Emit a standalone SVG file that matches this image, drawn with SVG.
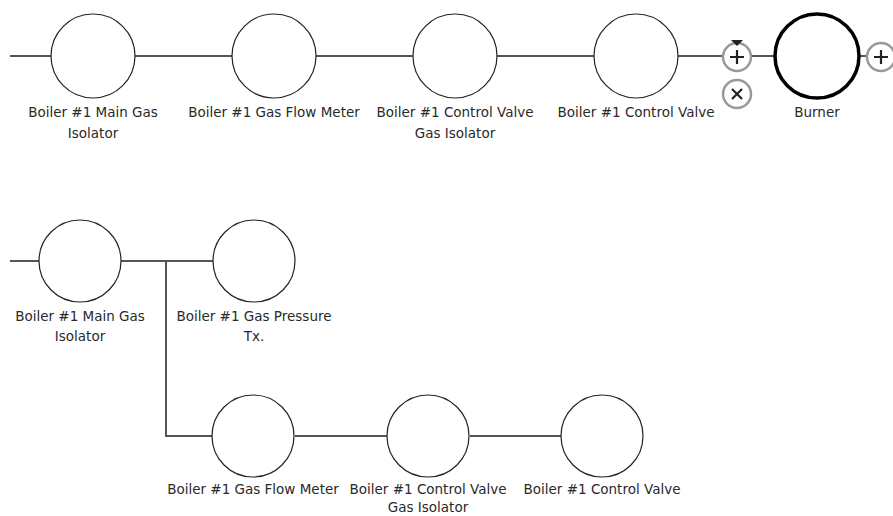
<svg xmlns="http://www.w3.org/2000/svg" width="893" height="516" viewBox="0 0 893 516">
<style>
.n{fill:#fff;stroke:#222;stroke-width:1.2}
.b{fill:#fff;stroke:#000;stroke-width:3.5}
.c{stroke:#555;stroke-width:2;fill:none}
.t{font-family:"DejaVu Sans",Verdana,sans-serif;font-size:13.5px;fill:#2a2a2a;text-anchor:middle}
.h{fill:#fff;stroke:#999;stroke-width:2.5}
.g{stroke:#222;stroke-width:2.2;fill:none}
</style>
<rect width="893" height="516" fill="#fff"/>
<g id="connectors">
<path class="c" d="M10 56H51M135 56H232M316 56H413M497 56H594M678 56H723M751 56H774M860 56H867"/>
<path class="c" d="M10 261H39M121 261H213M166 261V436H212M295 436H387M470 436H561"/>
</g>
<g id="n1"><circle class="n" cx="93" cy="56" r="42"/><text class="t" x="93" y="117">Boiler #1 Main Gas</text><text class="t" x="93" y="138">Isolator</text></g>
<g id="n2"><circle class="n" cx="274" cy="56" r="42"/><text class="t" x="274" y="117">Boiler #1 Gas Flow Meter</text></g>
<g id="n3"><circle class="n" cx="455" cy="56" r="42"/><text class="t" x="455" y="117">Boiler #1 Control Valve</text><text class="t" x="455" y="138">Gas Isolator</text></g>
<g id="n4"><circle class="n" cx="636" cy="56" r="42"/><text class="t" x="636" y="117">Boiler #1 Control Valve</text></g>
<g id="burner"><circle class="b" cx="817" cy="56" r="42"/><text class="t" x="817" y="117">Burner</text></g>
<g id="plus1"><circle class="h" cx="737" cy="57" r="14"/><path class="g" d="M730 57H744M737 50V64"/><path d="M731 40H743L737 46Z" fill="#222"/></g>
<g id="close1"><circle class="h" cx="737" cy="94" r="14"/><path class="g" d="M732 89L742 99M742 89L732 99"/></g>
<g id="plus2"><circle class="h" cx="881" cy="57" r="14"/><path class="g" d="M874 57H888M881 50V64"/></g>
<g id="m1"><circle class="n" cx="80" cy="261" r="41"/><text class="t" x="80" y="321">Boiler #1 Main Gas</text><text class="t" x="80" y="341">Isolator</text></g>
<g id="m2"><circle class="n" cx="254" cy="261" r="41"/><text class="t" x="254" y="321">Boiler #1 Gas Pressure</text><text class="t" x="254" y="341">Tx.</text></g>
<g id="m3"><circle class="n" cx="253" cy="436" r="41"/><text class="t" x="253" y="494">Boiler #1 Gas Flow Meter</text></g>
<g id="m4"><circle class="n" cx="428" cy="436" r="41"/><text class="t" x="428" y="494">Boiler #1 Control Valve</text><text class="t" x="428" y="512">Gas Isolator</text></g>
<g id="m5"><circle class="n" cx="602" cy="436" r="41"/><text class="t" x="602" y="494">Boiler #1 Control Valve</text></g>
</svg>
